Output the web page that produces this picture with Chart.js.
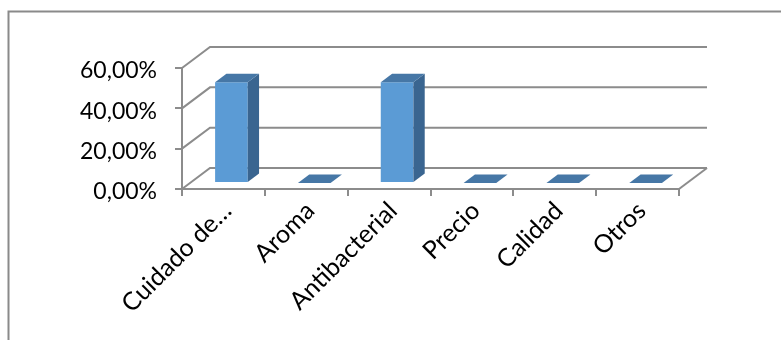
<!DOCTYPE html>
<html>
<head>
<meta charset="utf-8">
<script src="https://cdn.jsdelivr.net/npm/chart.js@4.4.1/dist/chart.umd.min.js"></script>
<style>
  body { margin: 0; background: #fff; }
  canvas { display: block; }
</style>
</head>
<body>
<canvas id="chart" width="781" height="340"></canvas>
<script>
// Data
const categories = ["Cuidado de…", "Aroma", "Antibacterial", "Precio", "Calidad", "Otros"];
const percentages = [50, 0, 50, 0, 0, 0];
const yTicks = [0, 20, 40, 60];

// 3D look
const depth = { dx: 28, dy: -21 };
const barDepth = { start: 0.286, end: 0.69 };
const gridColor = "#8c8c8c";
const faceColors = { front: "#5b9bd5", top: "#4677a6", side: "#3a6590" };

function line(ctx, pts) {
    ctx.beginPath();
    ctx.moveTo(pts[0][0], pts[0][1]);
    for (let i = 1; i < pts.length; i++) ctx.lineTo(pts[i][0], pts[i][1]);
    ctx.stroke();
}

function poly(ctx, pts, color) {
    ctx.beginPath();
    ctx.moveTo(pts[0][0], pts[0][1]);
    for (let i = 1; i < pts.length; i++) ctx.lineTo(pts[i][0], pts[i][1]);
    ctx.closePath();
    ctx.fillStyle = color;
    ctx.fill();
}

const threeD = {
    id: "threeD",
    beforeDraw(chart) {
        // outer frame
        const ctx = chart.ctx;
        ctx.save();
        ctx.strokeStyle = "#8a8a8a";
        ctx.lineWidth = 2;
        line(ctx, [[8.5, 341], [8.5, 11.5], [782, 11.5]]);
        ctx.restore();
    },
    beforeDatasetsDraw(chart) {
        const { ctx, chartArea: a, scales: { y } } = chart;
        ctx.save();
        ctx.strokeStyle = gridColor;
        ctx.lineWidth = 2;
        yTicks.forEach(v => {
            const py = y.getPixelForValue(v);
            line(ctx, [[a.left, py], [a.left + depth.dx, py + depth.dy], [a.right + depth.dx, py + depth.dy]]);
        });
        line(ctx, [[a.right, a.bottom], [a.right + depth.dx, a.bottom + depth.dy]]);
        ctx.restore();
    },
    afterDatasetsDraw(chart) {
        const ctx = chart.ctx;
        const meta = chart.getDatasetMeta(0);
        const sx = depth.dx * barDepth.start, sy = depth.dy * barDepth.start;
        const ddx = depth.dx * (barDepth.end - barDepth.start);
        const ddy = depth.dy * (barDepth.end - barDepth.start);
        ctx.save();
        meta.data.forEach(bar => {
            const p = bar.getProps(["x", "y", "base", "width"], true);
            const x0 = p.x - p.width / 2 + sx, x1 = p.x + p.width / 2 + sx;
            const yTop = p.y + sy, yBot = p.base + sy;
            if (yBot - yTop > 0.5) {
                poly(ctx, [[x0, yTop], [x1, yTop], [x1, yBot], [x0, yBot]], faceColors.front);
                poly(ctx, [[x1, yTop], [x1 + ddx, yTop + ddy], [x1 + ddx, yBot + ddy], [x1, yBot]], faceColors.side);
            }
            poly(ctx, [[x0, yTop], [x1, yTop], [x1 + ddx, yTop + ddy], [x0 + ddx, yTop + ddy]], faceColors.top);
        });
        ctx.restore();
    }
};

new Chart(document.getElementById("chart"), {
    type: "bar",
    data: {
        labels: categories,
        datasets: [{
            data: percentages,
            backgroundColor: "rgba(0,0,0,0)",
            borderWidth: 0,
            categoryPercentage: 1,
            barPercentage: 0.394
        }]
    },
    options: {
        responsive: false,
        animation: false,
        layout: { padding: { left: 0, top: 68, right: 102, bottom: 0 } },
        plugins: { legend: { display: false }, tooltip: { enabled: false } },
        scales: {
            x: {
                afterFit: s => { s.height = 151; },
                grid: { drawOnChartArea: false, color: gridColor, lineWidth: 2, tickLength: 7 },
                border: { color: gridColor, width: 2 },
                ticks: {
                    color: "#000",
                    font: { family: "Lato", size: 25 },
                    minRotation: 45,
                    maxRotation: 45,
                    padding: 0,
                    labelOffset: 4,
                    autoSkip: false
                }
            },
            y: {
                min: 0,
                max: 60,
                afterFit: s => { s.width = 182; },
                afterBuildTicks: s => { s.ticks = yTicks.map(v => ({ value: v })); },
                grid: { drawOnChartArea: false, color: gridColor, lineWidth: 2, tickLength: 7 },
                border: { color: gridColor, width: 2 },
                ticks: {
                    color: "#000",
                    font: { family: "Lato", size: 23 },
                    padding: 18,
                    labelOffset: 3,
                    callback: v => v.toFixed(2).replace(".", ",") + "%"
                }
            }
        }
    },
    plugins: [threeD]
});
</script>
</body>
</html>
